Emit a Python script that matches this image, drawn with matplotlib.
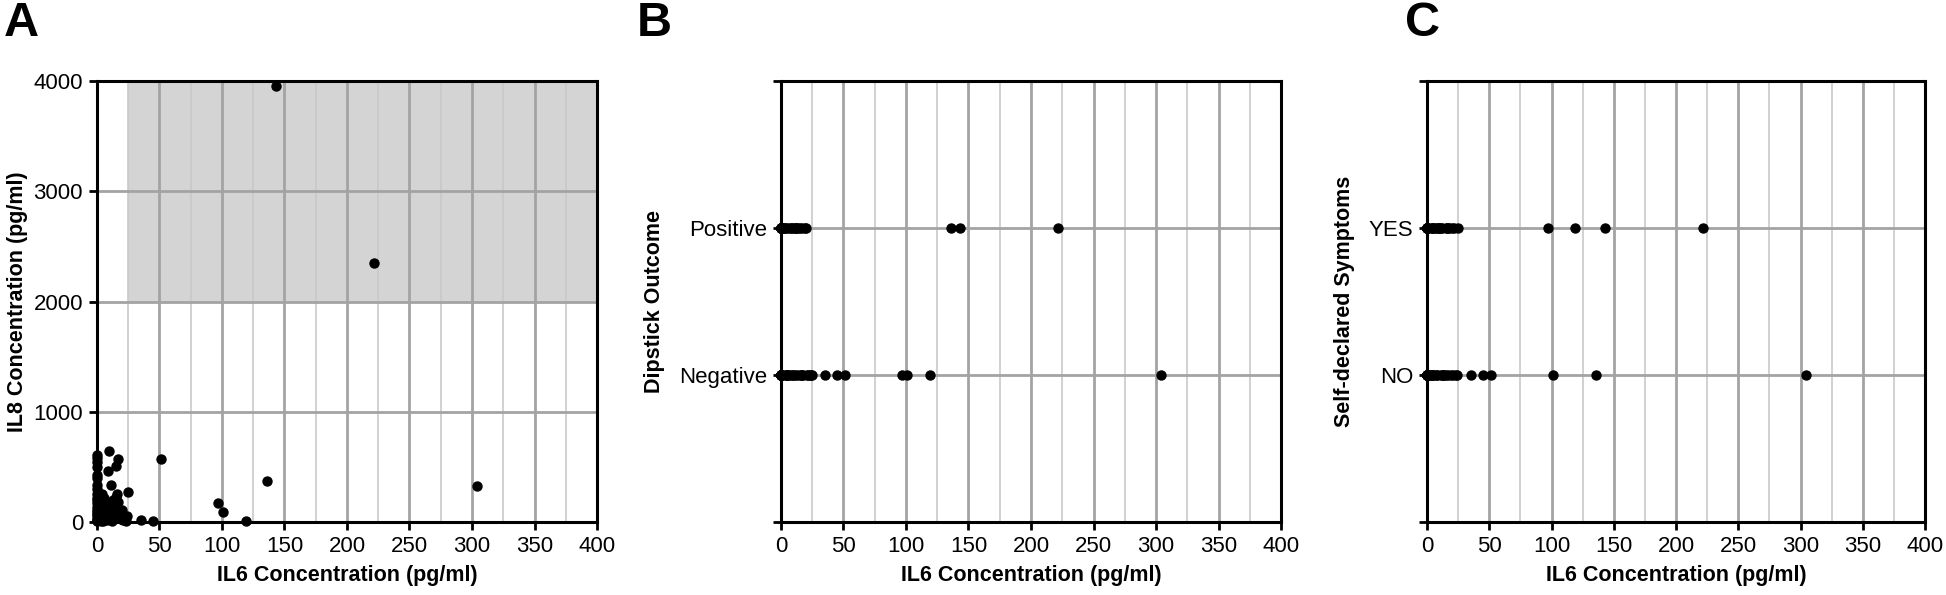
import numpy as np
import matplotlib
matplotlib.use("Agg")
import matplotlib.pyplot as plt

plt.rcParams['font.family'] = ['Liberation Sans', 'DejaVu Sans']

# one row per sample: IL6, IL8, dipstick (1 = Positive), self-declared symptoms (1 = YES)
il6 = [0, 0, 0, 0, 0, 0, 0, 0, 0, 0, 0, 0, 0, 0, 0, 0, 0, 0, 0, 0,
       2, 3, 4, 5, 6, 7, 8, 9, 10, 11, 12, 13, 14, 15, 15, 16, 17, 17,
       18, 19, 20, 21, 22, 23, 25, 24, 3, 5, 8, 10, 12, 6, 2, 4, 11,
       35, 45, 51, 97, 101, 119, 136, 143, 222, 304]
il8 = [610, 580, 540, 500, 430, 400, 340, 300, 250, 220, 200, 170, 140, 110, 90, 70, 50, 30, 15, 5,
       180, 120, 60, 150, 30, 90, 20, 465, 640, 335, 40, 200, 110, 505, 230, 250, 570, 180,
       60, 30, 110, 15, 50, 10, 275, 55, 10, 5, 70, 150, 10, 220, 40, 250, 80,
       17, 5, 570, 175, 95, 7, 370, 3960, 2350, 330]
dipstick = [1, 0, 1, 0, 0, 1, 0, 1, 0, 0, 1, 0, 0, 1, 0, 0, 1, 0, 1, 0,
            1, 0, 1, 0, 1, 0, 1, 0, 1, 0, 1, 0, 1, 0, 1, 0, 0, 1,
            0, 1, 1, 0, 0, 0, 0, 0, 1, 0, 1, 0, 1, 0, 1, 0, 1,
            0, 0, 0, 0, 0, 0, 1, 1, 1, 0]
symptoms = [1, 1, 0, 0, 1, 0, 1, 0, 0, 1, 1, 0, 1, 0, 0, 1, 0, 1, 0, 1,
            0, 1, 1, 0, 0, 1, 0, 1, 1, 0, 1, 0, 0, 1, 0, 1, 1, 0,
            1, 0, 1, 0, 1, 0, 1, 0, 0, 1, 0, 1, 0, 1, 0, 0, 1,
            0, 0, 0, 1, 0, 1, 0, 1, 1, 0]

panel_letters = ['A', 'B', 'C']
cat_labels_b = ['Negative', 'Positive']
cat_labels_c = ['NO', 'YES']
xlabel = 'IL6 Concentration (pg/ml)'

# shaded region in panel A
shade_x = (25, 400)
shade_y = (2000, 4000)

MAJ = '#a3a3a3'
MIN = '#c9c9c9'


def style_axis(ax):
    ax.set_xlim(0, 400)
    ax.set_xticks(np.arange(0, 401, 50))
    ax.set_xticks(np.arange(25, 400, 50), minor=True)
    ax.grid(which='major', color=MAJ, lw=2.0)
    ax.grid(which='minor', axis='x', color=MIN, lw=1.2)
    ax.set_axisbelow(True)
    for s in ax.spines.values():
        s.set_linewidth(2.2)
        s.set_color('black')
    ax.tick_params(which='major', direction='out', length=6, width=2, labelsize=16, pad=4)
    ax.tick_params(which='minor', length=0)
    ax.set_xlabel(xlabel, fontsize=15.5, fontweight='bold', labelpad=6)


fig = plt.figure(figsize=(19.46, 5.95), dpi=100)
axA = fig.add_axes([0.0498, 0.1227, 0.257, 0.741])
axB = fig.add_axes([0.4013, 0.1227, 0.257, 0.741])
axC = fig.add_axes([0.7333, 0.1227, 0.256, 0.741])

il6 = np.array(il6)
il8 = np.array(il8)
dipstick = np.array(dipstick)
symptoms = np.array(symptoms)

# A: IL6 vs IL8
style_axis(axA)
axA.fill_between(shade_x, shade_y[0], shade_y[1], color='#d4d4d4', zorder=0.2, lw=0)
axA.scatter(il6, il8, s=42, color='black', zorder=3, clip_on=False)
axA.set_ylim(0, 4000)
axA.set_yticks(np.arange(0, 4001, 1000))
axA.set_ylabel('IL8 Concentration (pg/ml)', fontsize=15.5, fontweight='bold', labelpad=4)

# B: dipstick
style_axis(axB)
axB.scatter(il6, dipstick + 1, s=42, color='black', zorder=3, clip_on=False)
axB.set_ylim(0, 3)
axB.set_yticks([0, 1, 2, 3])
axB.set_yticklabels([''] + cat_labels_b + [''])
axB.set_ylabel('Dipstick Outcome', fontsize=15.5, fontweight='bold', labelpad=10)

# C: symptoms
style_axis(axC)
axC.scatter(il6, symptoms + 1, s=42, color='black', zorder=3, clip_on=False)
axC.set_ylim(0, 3)
axC.set_yticks([0, 1, 2, 3])
axC.set_yticklabels([''] + cat_labels_c + [''])
axC.set_ylabel('Self-declared Symptoms', fontsize=15.5, fontweight='bold', labelpad=10)

for x, letter in zip([0.002, 0.327, 0.722], panel_letters):
    fig.text(x, 0.998, letter, fontsize=35, fontweight='bold', ha='left', va='top')

fig.savefig('out.png', dpi=100)
